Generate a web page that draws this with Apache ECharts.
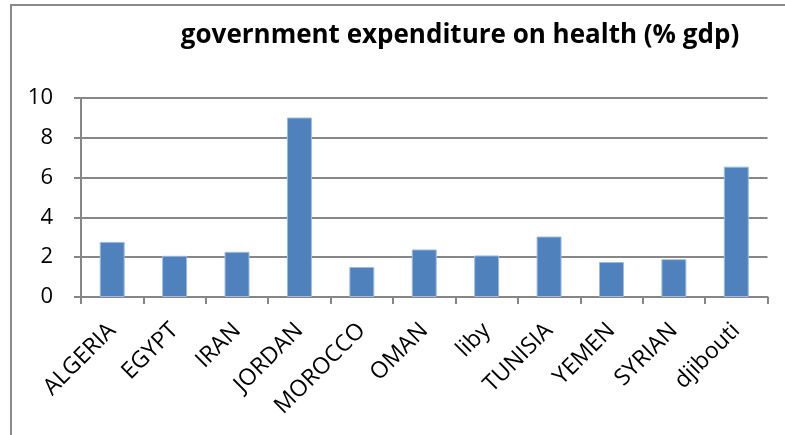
<!DOCTYPE html>
<html>
<head>
<meta charset="utf-8">
<script src="https://cdn.jsdelivr.net/npm/echarts@6/dist/echarts.min.js"></script>
<style>
  html, body { margin: 0; padding: 0; background: #fff; }
  #chart { width: 785px; height: 435px; }
</style>
</head>
<body>
<div id="chart"></div>
<script>
const categories = ['ALGERIA', 'EGYPT', 'IRAN', 'JORDAN', 'MOROCCO', 'OMAN', 'liby', 'TUNISIA', 'YEMEN', 'SYRIAN', 'djibouti']
const values = [2.77, 2.07, 2.27, 9.02, 1.51, 2.39, 2.09, 3.04, 1.76, 1.9, 6.55]
const yTicks = [0, 2, 4, 6, 8, 10]

const font = '"Open Sans", "Liberation Sans", sans-serif'
const chart = echarts.init(document.getElementById('chart'))

const option = {
  animation: false,
  title: {
    text: 'government expenditure on health (% gdp)',
    left: 455,
    top: 18,
    textAlign: 'center',
    textStyle: { fontFamily: font, fontSize: 26, fontWeight: 'bold', color: '#000' }
  },
  // chart frame (only left and top edges are visible in the picture)
  graphic: [{
    type: 'rect',
    shape: { x: 11, y: 5, width: 800, height: 500 },
    style: { fill: 'none', stroke: '#8a8a8a', lineWidth: 2 },
    silent: true
  }],
  grid: { left: 81, right: 17.5, top: 98, bottom: 138 },
  xAxis: {
    type: 'category',
    data: categories,
    axisLine: { lineStyle: { color: '#868686', width: 2 } },
    axisTick: { show: true, length: 7, lineStyle: { color: '#868686', width: 2 } },
    axisLabel: { rotate: 45, margin: 30, color: '#000', fontFamily: font, fontSize: 23 }
  },
  yAxis: {
    type: 'value',
    min: yTicks[0],
    max: yTicks[yTicks.length - 1],
    interval: 2,
    axisLine: { show: true, lineStyle: { color: '#868686', width: 2 } },
    axisTick: { show: true, length: 7, lineStyle: { color: '#868686', width: 2 } },
    splitLine: { lineStyle: { color: '#878787', width: 2 } },
    axisLabel: { margin: 28, color: '#000', fontFamily: font, fontSize: 22 }
  },
  series: [{
    type: 'bar',
    data: values,
    barWidth: '40%',
    itemStyle: { color: '#4F81BD', borderColor: '#9fbbe0', borderWidth: 1 }
  }]
}

chart.setOption(option)
</script>
</body>
</html>
